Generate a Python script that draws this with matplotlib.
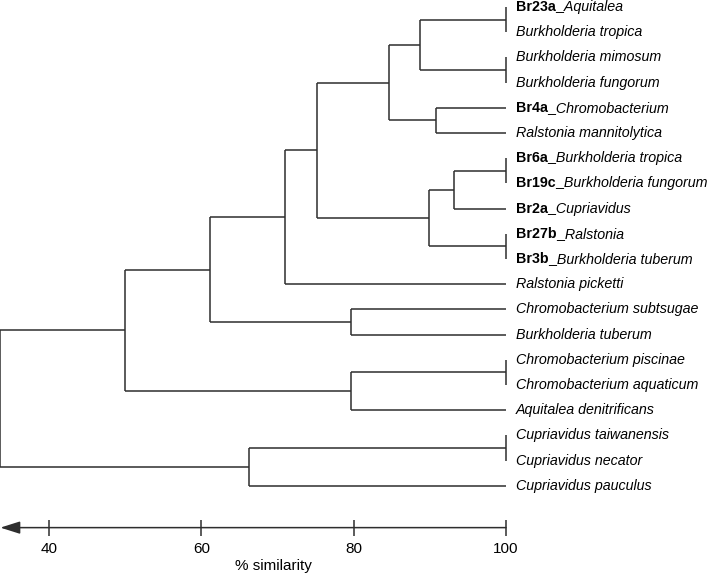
"""
Dendrogram of isolate / reference strain similarity (% similarity).
"""
import matplotlib
matplotlib.use("Agg")
import matplotlib.pyplot as plt


# leaf labels, top to bottom: bold isolate code (may be empty) + italic name
LEAF_CODES = [
    "Br23a", "", "", "", "Br4a", "", "Br6a", "Br19c", "Br2a", "Br27b",
    "Br3b", "", "", "", "", "", "", "", "", "",
]
LEAF_NAMES = [
    "_Aquitalea", "Burkholderia tropica", "Burkholderia mimosum",
    "Burkholderia fungorum", "_Chromobacterium", "Ralstonia mannitolytica",
    "_Burkholderia tropica", "_Burkholderia fungorum", "_Cupriavidus",
    "_Ralstonia", "_Burkholderia tuberum", "Ralstonia picketti",
    "Chromobacterium subtsugae", "Burkholderia tuberum",
    "Chromobacterium piscinae", "Chromobacterium aquaticum",
    "Aquitalea denitrificans", "Cupriavidus taiwanensis",
    "Cupriavidus necator", "Cupriavidus pauculus",
]

# merges in linkage order: node n_leaves + k joins MERGE_A[k] and MERGE_B[k]
MERGE_A = [0, 2, 6, 9, 14, 17, 20, 4, 22, 28, 26, 30, 31, 12, 32, 24, 34, 25, 36]
MERGE_B = [1, 3, 7, 10, 15, 18, 21, 5, 8, 23, 27, 29, 11, 13, 33, 16, 35, 19, 37]
MERGE_SIM = [100, 100, 100, 100, 100, 100, 88.7, 90.8, 93.2, 89.9,
             84.7, 75.2, 71.0, 79.7, 61.2, 79.7, 50.0, 66.3, 33.6]

AXIS_TICKS = [40, 60, 80, 100]
AXIS_LABEL = "% similarity"

FONT = "Liberation Sans"
LINE_COLOR = "#2e2e2e"


def draw_tree(ax):
    n = len(LEAF_NAMES)
    pos_x = {i: 100.0 for i in range(n)}
    pos_y = {i: float(i) for i in range(n)}
    for k, (a, b, sim) in enumerate(zip(MERGE_A, MERGE_B, MERGE_SIM)):
        node = n + k
        ax.plot([sim, sim], [pos_y[a], pos_y[b]], color=LINE_COLOR, lw=1.1,
                solid_capstyle="butt")
        for child in (a, b):
            if pos_x[child] > sim:
                ax.plot([sim, pos_x[child]], [pos_y[child], pos_y[child]],
                        color=LINE_COLOR, lw=1.1, solid_capstyle="butt")
        pos_x[node] = sim
        pos_y[node] = (pos_y[a] + pos_y[b]) / 2


def draw_labels(ax):
    for i, (code, name) in enumerate(zip(LEAF_CODES, LEAF_NAMES)):
        anchor = ax.annotate(code, xy=(100, i), xytext=(7.2, 0),
                             textcoords="offset points", ha="left", va="center",
                             fontsize=10.3, fontweight="bold", family=FONT)
        ax.annotate(name, xy=(1, 0.5), xycoords=anchor, ha="left", va="center",
                    fontsize=10.3, fontstyle="italic", family=FONT)


def draw_axis(ax, y_axis):
    left = ax.get_xlim()[0]
    for side in ("top", "left", "right", "bottom"):
        ax.spines[side].set_visible(False)
    ax.spines["bottom"].set_position(("data", y_axis))
    ax.annotate("", xy=(left + 0.05, y_axis), xytext=(100, y_axis),
                arrowprops=dict(arrowstyle="-|>,head_length=1.2,head_width=0.38",
                                color=LINE_COLOR, lw=1.1, shrinkA=0, shrinkB=0))
    ax.set_xticks(AXIS_TICKS)
    ax.set_xticklabels([str(t) for t in AXIS_TICKS], family=FONT, fontsize=11)
    ax.tick_params(axis="x", direction="inout", length=12, width=1.1,
                   color=LINE_COLOR, pad=4)
    ax.set_yticks([])
    ax.text(69.5, 22.2, AXIS_LABEL, ha="center", va="center",
            family=FONT, fontsize=11)


def main():
    fig = plt.figure(figsize=(7.09, 5.75), dpi=100)
    ax = fig.add_axes([0, 0, 1, 1])
    ax.set_xlim(33.57, 126.65)
    ax.set_ylim(22.54, -0.278)
    draw_tree(ax)
    draw_labels(ax)
    draw_axis(ax, 20.66)
    fig.savefig("out.png", dpi=100)


if __name__ == "__main__":
    main()
